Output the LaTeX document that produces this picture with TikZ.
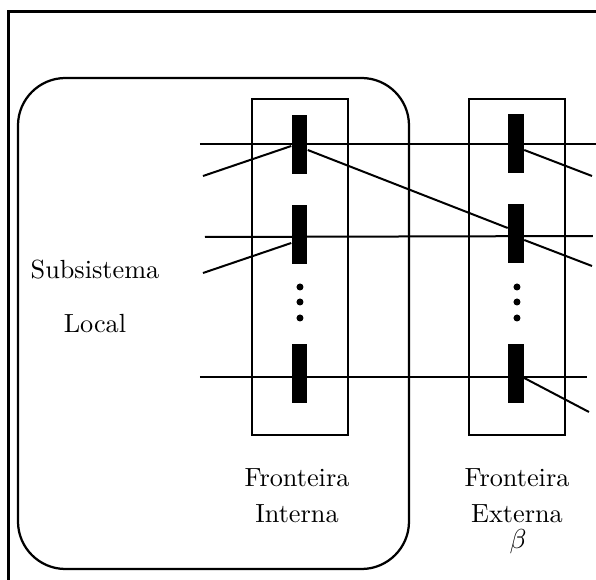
\documentclass[tikz,border=0pt]{standalone}
\usetikzlibrary{calc}
\begin{document}
\begin{tikzpicture}[x=0.4pt,y=-0.4pt,
  frame/.style={line width=1.2pt},
  boundary/.style={draw, line width=0.8pt, minimum width=38.4pt, minimum height=134.4pt, inner sep=0pt},
  region/.style={draw, line width=0.9pt, rounded corners=19pt, minimum width=156.4pt, minimum height=196.4pt, inner sep=0pt},
  bar/.style={fill=black, draw=none, minimum width=6.2pt, minimum height=23.6pt, inner sep=0pt},
  wire/.style={line width=0.8pt},
  dot/.style={circle, fill=black, minimum size=2.8pt, inner sep=0pt},
  label/.style={anchor=base, inner sep=0pt, font=\fontsize{10.5}{12}\selectfont}]
\useasboundingbox (0,0) rectangle (596,580);

% outer frame (only its top and left sides fall inside the page)
\draw[frame] (9,580) -- (9,12) -- (596,12);

% local subsystem and the two boundary strips
\node[region] (sub) at (213.5,323.5) {};
\node[boundary] (fi) at (300.5,267) {};
\node[boundary] (fe) at (517.5,267) {};

% boundary nodes
\node[bar] (I1) at (299.5,144.5) {};
\node[bar] (I2) at (299.5,235) {};
\node[bar] (I3) at (299.5,374) {};
\node[bar] (O1) at (516,143.5) {};
\node[bar] (O2) at (516,234) {};
\node[bar] (O3) at (516,373.5) {};

% vertical ellipses
\foreach \y [count=\i] in {287,302,318}{
  \node[dot] (di\i) at (300,\y) {};
  \node[dot] (de\i) at (517,\y) {};
}

% free ends of the connections
\coordinate (h1l) at (200,144);
\coordinate (h1r) at (596,144);
\coordinate (h2l) at (205,237);
\coordinate (h2r) at (593,236);
\coordinate (h3l) at (200,377);
\coordinate (h3r) at (587,377);
\coordinate (sa) at (203,176);
\coordinate (sc) at (203,273);
\coordinate (sd) at (592,176);
\coordinate (se) at (592,266);
\coordinate (sf) at (589,412);

% horizontal lines through the nodes
\draw[wire] (h1l) -- (h1r);
\draw[wire] (h2l) -- (h2r);
\draw[wire] (h3l) -- (h3r);

% slanted connections
\draw[wire] (sa) -- ([yshift=-0.6pt]I1.west);
\draw[wire] (sc) -- ([yshift=-3.2pt]I2.west);
\draw[wire] ([yshift=-2.2pt]I1.east) -- ([yshift=2.4pt]O2.west);
\draw[wire] ([yshift=-2.6pt]O1.east) -- (sd);
\draw[wire] ([yshift=-2.4pt]O2.east) -- (se);
\draw[wire] ([yshift=-1.8pt]O3.east) -- (sf);

% labels
\node[label] (sub1) at (95,279) {Subsistema};
\node[label] (sub2) at (95,333) {Local};
\node[label] (fi1) at (297,487) {Fronteira};
\node[label] (fi2) at (297,523) {Interna};
\node[label] (fe1) at (517,487) {Fronteira};
\node[label] (fe2) at (517,523) {Externa};
\node[label] (fe3) at (518,549) {$\beta$};
\end{tikzpicture}
\end{document}
